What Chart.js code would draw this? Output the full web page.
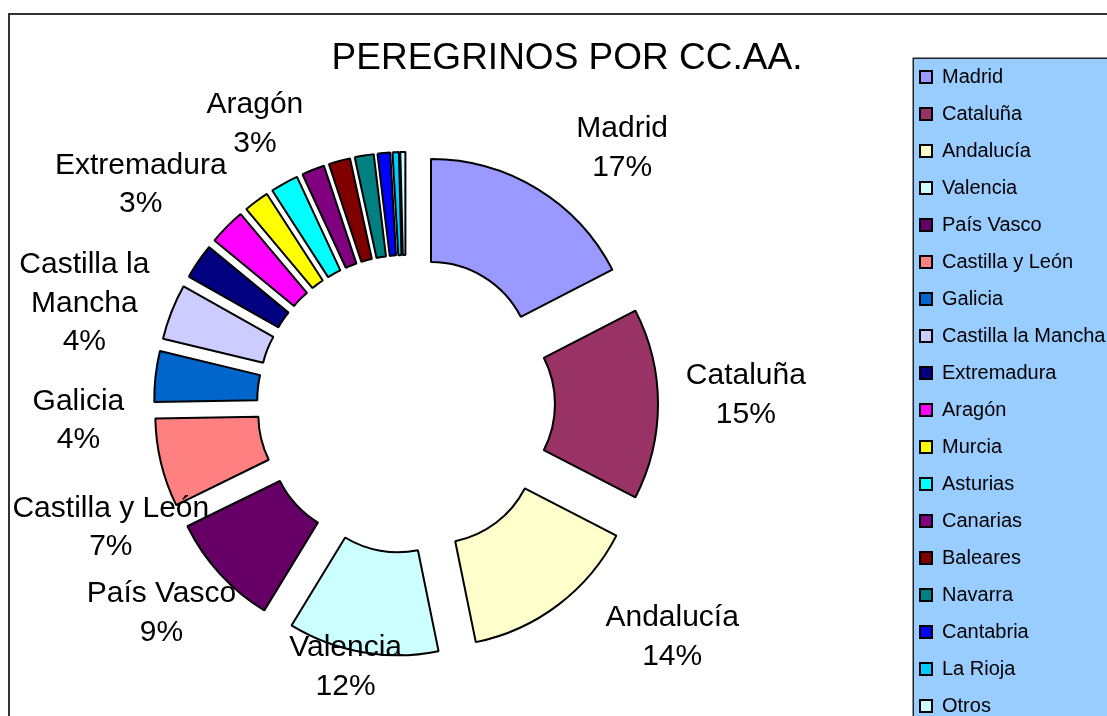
<!DOCTYPE html>
<html>
<head>
<meta charset="utf-8">
<script src="https://cdn.jsdelivr.net/npm/chart.js@4.4.1/dist/chart.umd.min.js"></script>
<style>
html,body{margin:0;padding:0;background:#fff;}
#wrap{width:1107px;height:716px;position:relative;overflow:hidden;}
</style>
</head>
<body>
<div id="wrap"><canvas id="c" width="1107" height="716"></canvas></div>
<script>
// ---- data ----
const TITLE = 'PEREGRINOS POR CC.AA.';
const categories = ['Madrid', 'Cataluña', 'Andalucía', 'Valencia', 'País Vasco', 'Castilla y León',
  'Galicia', 'Castilla la Mancha', 'Extremadura', 'Aragón', 'Murcia', 'Asturias', 'Canarias',
  'Baleares', 'Navarra', 'Cantabria', 'La Rioja', 'Otros'];
const shares = [17.4, 15.1, 14.2, 11.9, 9.0, 7.0, 4.0, 4.4, 2.8, 2.9, 2.0, 2.2, 1.8, 1.7, 1.5, 1.0, 0.5, 0.4];
const colors = ['#9999FF', '#993366', '#FFFFCC', '#CCFFFF', '#660066', '#FF8080', '#0066CC', '#CCCCFF',
  '#000080', '#FF00FF', '#FFFF00', '#00FFFF', '#800080', '#800000', '#008080', '#0000FF', '#00CCFF', '#CCFFFF'];

// ---- style / layout ----
const FONT = '"Liberation Sans", Arial, sans-serif';
const CENTER_X = 406, CENTER_Y = 404, AREA = 410;   // plot area for the ring
const EXPLODE = 48;                                  // exploded-slice distance (px)
const LABEL_MIN_PCT = 2.5;                           // slices below this carry no label
const LABEL_LINE = 38.5;
// manually dragged labels: [angle shift from slice middle (deg), distance from centre (px)]
const LABEL_PLACEMENT = [[8.8, 335], [-1.5, 340], [-11.6, 354], [3.0, 270], [1.8, 322], [-9.2, 320],
  [-9.2, 328], [-4.1, 337], [5.1, 344], [16.9, 318]];

const framePlugin = {
  id: 'frame',
  beforeDraw(chart) {
    const c = chart.ctx;
    c.save();
    c.strokeStyle = '#333';
    c.lineWidth = 2;
    c.strokeRect(9, 14, 2000, 2000);
    c.fillStyle = '#99CCFF';
    c.fillRect(913, 58, 400, 800);
    c.strokeStyle = '#222';
    c.lineWidth = 1.5;
    c.strokeRect(913.25, 58.25, 400, 800);
    c.restore();
  }
};

const placementPlugin = {
  id: 'placement',
  afterLayout(chart) {
    Object.assign(chart.chartArea, {
      left: CENTER_X - AREA / 2, right: CENTER_X + AREA / 2,
      top: CENTER_Y - AREA / 2, bottom: CENTER_Y + AREA / 2,
      width: AREA, height: AREA
    });
    const t = chart.titleBlock;
    if (t) {
      const w = 600;
      t.left = 567 - w / 2; t.right = 567 + w / 2; t.width = w;
      const h = t.height;
      t.top = 59 - h / 2; t.bottom = t.top + h;
    }
    const lg = chart.legend;
    if (lg) {
      const w = lg.width, h = lg.height;
      lg.left = 903; lg.right = 903 + w;
      lg.top = 50; lg.bottom = 50 + h;
    }
  }
};

const explodePlugin = {
  id: 'explode',
  afterDatasetsUpdate(chart) {
    chart.getDatasetMeta(0).data.forEach(arc => {
      const m = (arc.startAngle + arc.endAngle) / 2;
      arc.x += Math.cos(m) * EXPLODE;
      arc.y += Math.sin(m) * EXPLODE;
    });
  }
};

function wrapText(c, text, maxW) {
  const words = text.split(' ');
  const lines = [];
  let cur = '';
  words.forEach(w => {
    const test = cur ? cur + ' ' + w : w;
    if (cur && c.measureText(test).width > maxW) { lines.push(cur); cur = w; }
    else cur = test;
  });
  if (cur) lines.push(cur);
  return lines;
}

const labelPlugin = {
  id: 'sliceLabels',
  afterDatasetsDraw(chart) {
    const c = chart.ctx;
    const ca = chart.chartArea;
    const cx = (ca.left + ca.right) / 2, cy = (ca.top + ca.bottom) / 2;
    const total = shares.reduce((a, b) => a + b, 0);
    c.save();
    c.font = '30px ' + FONT;
    c.fillStyle = '#000';
    c.textAlign = 'center';
    c.textBaseline = 'middle';
    chart.getDatasetMeta(0).data.forEach((arc, i) => {
      const pct = shares[i] / total * 100;
      if (pct < LABEL_MIN_PCT || !LABEL_PLACEMENT[i]) return;
      const [shift, dist] = LABEL_PLACEMENT[i];
      const a = (arc.startAngle + arc.endAngle) / 2 + shift * Math.PI / 180;
      const x = cx + Math.cos(a) * dist, y = cy + Math.sin(a) * dist;
      const lines = wrapText(c, categories[i], 210).concat([Math.round(pct) + '%']);
      lines.forEach((ln, k) => c.fillText(ln, x, y + (k - (lines.length - 1) / 2) * LABEL_LINE));
    });
    c.restore();
  }
};

new Chart(document.getElementById('c'), {
  type: 'doughnut',
  data: {
    labels: categories,
    datasets: [{
      data: shares,
      backgroundColor: colors,
      borderColor: '#000',
      borderWidth: 2,
      clip: false
    }]
  },
  options: {
    responsive: false,
    animation: false,
    events: [],
    cutout: '49.5%',
    layout: { padding: 0 },
    plugins: {
      title: {
        display: true, text: TITLE, color: '#000', padding: 0,
        font: { family: FONT, size: 37, weight: 'normal', lineHeight: 1.2 }
      },
      legend: {
        display: true, position: 'right', align: 'start',
        labels: { boxWidth: 12, boxHeight: 12, padding: 17, color: '#000', font: { family: FONT, size: 20 } }
      },
      tooltip: { enabled: false }
    }
  },
  plugins: [framePlugin, placementPlugin, explodePlugin, labelPlugin]
});
</script>
</body>
</html>
